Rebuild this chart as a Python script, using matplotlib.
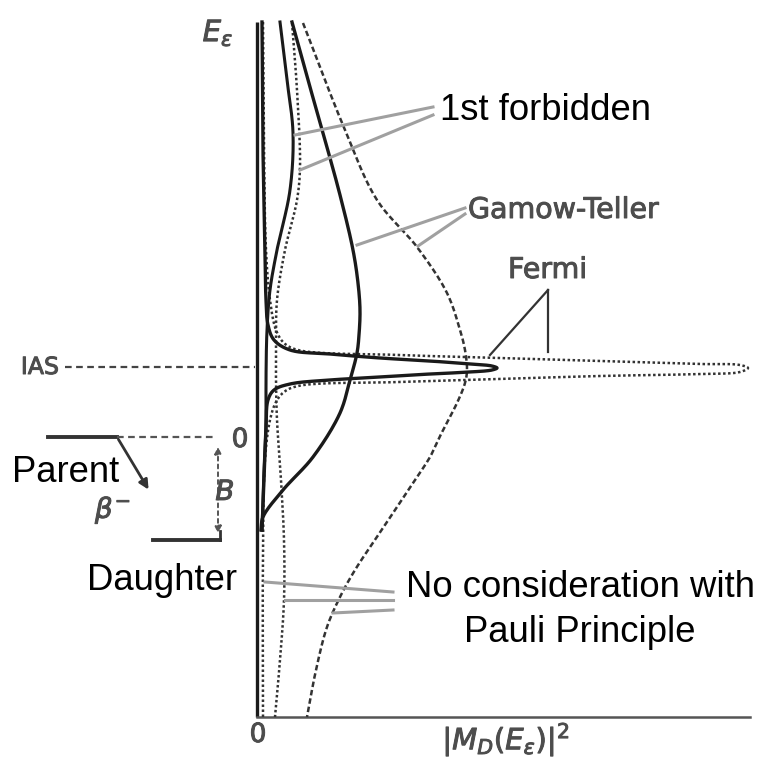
import numpy as np
import matplotlib.pyplot as plt
import matplotlib.patheffects as pe

# strength |M|^2 (S) versus excitation energy (E), arbitrary units, E=0 at parent level
# Fermi, with Pauli blocking (narrow IAS spike)
fermi_pauli_S = [0.10, 0.12, 0.16, 0.18, 0.22, 0.34, 0.66, 1.46, 2.46, 3.46, 4.26, 4.70, 4.80,
                 4.70, 4.26, 3.46, 2.46, 1.46, 0.66, 0.34, 0.22, 0.18, 0.14, 0.10]
fermi_pauli_E = [8.30, 5.74, 3.74, 2.74, 2.24, 1.94, 1.74, 1.66, 1.58, 1.52, 1.46, 1.42, 1.38,
                 1.34, 1.30, 1.26, 1.20, 1.14, 1.06, 0.94, 0.74, 0.14, -0.86, -1.86]
# Fermi, no Pauli principle
fermi_free_S = [0.12, 0.14, 0.18, 0.26, 0.38, 0.54, 0.82, 2.86, 4.86, 6.86, 8.86, 9.66, 9.82,
                9.66, 8.86, 6.86, 4.86, 2.86, 0.82, 0.54, 0.38, 0.26, 0.16, 0.12, 0.12]
fermi_free_E = [8.30, 5.74, 3.74, 2.74, 2.14, 1.88, 1.74, 1.64, 1.58, 1.52, 1.46, 1.44, 1.38,
                1.30, 1.26, 1.22, 1.16, 1.10, 1.02, 0.90, 0.70, 0.34, -0.46, -2.26, -5.60]
# Gamow-Teller
gt_pauli_S = [0.70, 1.02, 1.32, 1.66, 1.92, 2.02, 2.06, 2.04, 2.00, 1.86, 1.66, 1.12, 0.52, 0.12, 0.08]
gt_pauli_E = [8.30, 7.14, 6.08, 4.84, 3.74, 3.08, 2.54, 2.04, 1.68, 1.14, 0.48, -0.40, -1.06, -1.60, -1.86]
gt_free_S = [0.92, 1.76, 2.40, 3.20, 3.80, 4.06, 4.16, 4.20, 4.16, 4.00, 3.72, 3.46, 3.16, 2.56,
             1.96, 1.66, 1.40, 1.18, 1.00]
gt_free_E = [8.28, 6.14, 4.74, 3.80, 2.88, 2.14, 1.74, 1.34, 1.08, 0.68, 0.14, -0.40, -0.86, -1.76,
             -2.66, -3.20, -3.80, -4.66, -5.60]
# 1st forbidden
ff_pauli_S = [0.46, 0.60, 0.72, 0.66, 0.40, 0.26, 0.20, 0.18, 0.18, 0.14, 0.10]
ff_pauli_E = [8.30, 7.14, 6.08, 4.94, 3.74, 2.94, 2.14, 1.14, 0.34, -0.66, -1.86]
ff_free_S = [0.70, 0.80, 0.86, 0.80, 0.56, 0.40, 0.38, 0.38, 0.40, 0.48, 0.54, 0.54, 0.46, 0.36]
ff_free_E = [8.28, 6.94, 5.40, 4.74, 3.74, 2.74, 1.94, 1.14, 0.34, -0.86, -2.06, -3.26, -4.46, -5.60]

# levels
E_top, E_bottom, S_end = 8.30, -5.60, 9.86
E_ias, E_parent, E_daughter = 1.40, 0.0, -2.06

# leader lines: (label end) -> (curve)
lead_ff = [((3.52, 6.60), (0.76, 6.04)), ((3.52, 6.44), (0.86, 5.34))]
lead_gt = [((4.16, 4.58), (2.00, 3.84)), ((4.16, 4.46), (3.22, 3.82))]
lead_fermi = [((5.82, 2.94), (4.66, 1.64)), ((5.82, 2.94), (5.82, 1.70))]
lead_free = [((2.72, -3.10), (0.16, -2.90)), ((2.72, -3.26), (0.56, -3.26)),
             ((2.72, -3.46), (1.52, -3.52))]


def smooth(xs, ys, n=20, alpha=0.5):
    # centripetal Catmull-Rom through the given points, for drawing only
    P = np.column_stack([xs, ys]).astype(float)
    P = np.vstack([2 * P[0] - P[1], P, 2 * P[-1] - P[-2]])
    out = [P[1]]
    for i in range(len(P) - 3):
        p0, p1, p2, p3 = P[i:i + 4]
        t0 = 0.0
        t1 = t0 + np.linalg.norm(p1 - p0) ** alpha + 1e-9
        t2 = t1 + np.linalg.norm(p2 - p1) ** alpha + 1e-9
        t3 = t2 + np.linalg.norm(p3 - p2) ** alpha + 1e-9
        t = np.linspace(t1, t2, n)[1:, None]
        a1 = (t1 - t) / (t1 - t0) * p0 + (t - t0) / (t1 - t0) * p1
        a2 = (t2 - t) / (t2 - t1) * p1 + (t - t1) / (t2 - t1) * p2
        a3 = (t3 - t) / (t3 - t2) * p2 + (t - t2) / (t3 - t2) * p3
        b1 = (t2 - t) / (t2 - t0) * a1 + (t - t0) / (t2 - t0) * a2
        b2 = (t3 - t) / (t3 - t1) * a2 + (t - t1) / (t3 - t1) * a3
        out.extend((t2 - t) / (t2 - t1) * b1 + (t - t1) / (t2 - t1) * b2)
    out = np.array(out)
    return out[:, 0], out[:, 1]


fig = plt.figure(figsize=(7.58, 7.65), dpi=100)
ax = fig.add_axes([0, 0, 1, 1])
ax.set_xlim(-5.14, 10.02)
ax.set_ylim(-6.56, 8.74)
ax.axis('off')

ink = '#1a1a1a'
scan_gray = '#4d4d4d'
lead_gray = '#a0a0a0'

# axes of the diagram
ax.plot([0, 0], [E_bottom, E_top], color=ink, lw=2.4, solid_capstyle='butt')
ax.plot([0, S_end], [E_bottom, E_bottom], color='#555555', lw=1.8)

# strength curves
dots = (0, (1.0, 1.0))
ax.plot(*smooth(fermi_free_S, fermi_free_E), color='#333333', lw=1.8, ls=dots)
ax.plot(*smooth(ff_free_S, ff_free_E), color='#333333', lw=1.8, ls=dots)
ax.plot(*smooth(gt_free_S, gt_free_E), color='#333333', lw=1.8, ls=(0, (2.2, 1.2)))
ax.plot(*smooth(ff_pauli_S, ff_pauli_E), color=ink, lw=2.2)
ax.plot(*smooth(gt_pauli_S, gt_pauli_E), color=ink, lw=2.4)
ax.plot(*smooth(fermi_pauli_S, fermi_pauli_E), color=ink, lw=2.4)

for leads in (lead_ff, lead_gt, lead_free):
    for (x0, y0), (x1, y1) in leads:
        ax.plot([x0, x1], [y0, y1], color=lead_gray, lw=2.2)
for (x0, y0), (x1, y1) in lead_fermi:
    ax.plot([x0, x1], [y0, y1], color='#333333', lw=1.6)

# IAS, parent and daughter levels
ax.plot([-3.84, -0.04], [E_ias, E_ias], color='#444444', lw=1.6, ls=(0, (3, 2)))
ax.plot([-4.18, -2.80], [E_parent, E_parent], color='#333333', lw=2.8)
ax.plot([-2.80, -0.80], [E_parent, E_parent], color='#555555', lw=1.6, ls=(0, (3, 2)))
ax.plot([-2.08, -0.74], [E_daughter, E_daughter], color='#333333', lw=2.8)
ax.plot([-0.74, -0.74], [E_daughter, E_daughter + 0.18], color='#333333', lw=2.0)
ax.annotate('', xy=(-2.14, -1.10), xytext=(-2.80, E_parent),
            arrowprops=dict(arrowstyle='-|>', color='#333333', lw=2.0, mutation_scale=14))
ax.annotate('', xy=(-0.78, E_daughter + 0.08), xytext=(-0.78, E_parent - 0.14),
            arrowprops=dict(arrowstyle='<|-|>', color='#555555', lw=1.4, ls=(0, (2, 2)),
                            mutation_scale=10))

# labels from the original figure
stroke = [pe.withStroke(linewidth=0.7, foreground=scan_gray)]
scan = dict(color=scan_gray, family='DejaVu Sans', path_effects=stroke)
ax.text(-0.78, 8.08, r'$E_\epsilon$', fontsize=21, ha='center', va='center', **scan)
ax.text(-4.34, E_ias, 'IAS', fontsize=17, ha='center', va='center', **scan)
ax.text(-0.34, E_parent - 0.06, '0', fontsize=19, ha='center', va='center', **scan)
ax.text(-2.88, -1.46, r'$\beta^{-}$', fontsize=20, ha='center', va='center', **scan)
ax.text(-0.64, -1.10, r'$B$', fontsize=20, ha='center', va='center', **scan)
ax.text(0.02, -5.96, '0', fontsize=19, ha='center', va='center', **scan)
ax.text(4.98, -6.06, r'$|M_D(E_\epsilon)|^2$', fontsize=21, ha='center', va='center', **scan)
ax.text(4.22, 4.54, 'Gamow-Teller', fontsize=20.5, ha='left', va='center', **scan)
ax.text(5.02, 3.34, 'Fermi', fontsize=20.5, ha='left', va='center', **scan)

# added labels
big = dict(family='Liberation Sans', fontsize=26.3, color='black')
white = dict(facecolor='white', edgecolor='none', pad=1)
ax.text(3.66, 6.54, '1st forbidden', ha='left', va='center', bbox=white, **big)
ax.text(-4.90, -0.72, 'Parent', ha='left', va='center', bbox=white, **big)
ax.text(-3.40, -2.86, 'Daughter', ha='left', va='center', bbox=white, **big)
ax.text(6.46, -3.46, 'No consideration with\nPauli Principle', ha='center', va='center',
        multialignment='center', linespacing=1.35, **big)

fig.savefig('out.png', dpi=100)
